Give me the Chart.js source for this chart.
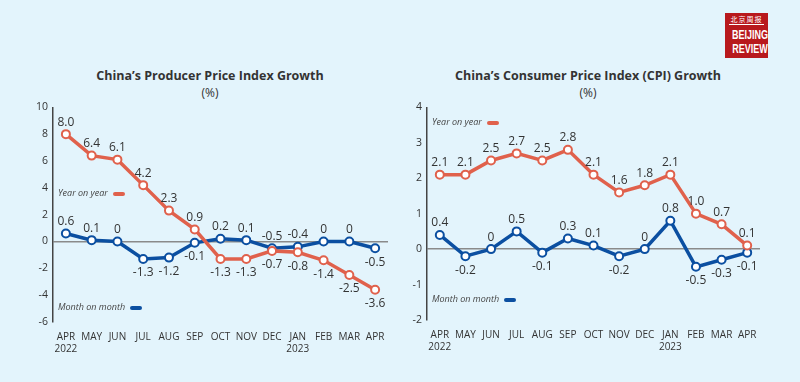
<!DOCTYPE html>
<html lang="en">
<head>
<meta charset="UTF-8">
<title>China PPI and CPI Growth</title>
<style>
    body { margin: 0; background: #e3f4fc; font-family: 'Open Sans', sans-serif; color: #3a3a3a; }
    #page { position: relative; width: 800px; height: 382px; overflow: hidden; background: #e3f4fc; }
    .title { position: absolute; top: 67px; width: 400px; text-align: center; font-weight: bold; font-size: 12.5px; line-height: 17px; color: #333; }
    .title span { display: block; font-weight: normal; font-size: 12px; }
    canvas { position: absolute; }
    .legend { position: absolute; font-size: 9px; font-style: italic; color: #444; line-height: 12px; white-space: nowrap; }
    .legend i { display: inline-block; width: 12px; height: 4px; border-radius: 2px; margin-left: 5px; vertical-align: middle; }
    #logo { position: absolute; left: 725px; top: 13px; width: 43px; height: 45px; background: #b8191d; color: #fff; text-align: center; overflow: hidden; }
    #logo .cn { font-family: 'Noto Sans CJK SC', sans-serif; font-size: 7px; line-height: 9px; margin: 2px 4px 0 4px; letter-spacing: 1px; border-bottom: 1px solid #fff; white-space: nowrap; }
    #logo .en { display: inline-block; font-family: 'Liberation Sans Narrow', 'Liberation Sans', sans-serif; font-weight: bold; font-size: 12.5px; line-height: 14px; transform: scaleX(0.72); transform-origin: center; margin-top: 3px; white-space: nowrap; }
</style>
</head>
<body>
<div id="page">
    <div id="logo">
        <div class="cn">北京周报</div>
        <div class="en">BEIJING<br>REVIEW</div>
    </div>

    <div class="title" style="left:10px">China’s Producer Price Index Growth<span>(%)</span></div>
    <div class="title" style="left:388px">China’s Consumer Price Index (CPI) Growth<span>(%)</span></div>

    <canvas id="ppiChart" width="400" height="266" style="left:0;top:96px"></canvas>
    <canvas id="cpiChart" width="400" height="266" style="left:400px;top:96px"></canvas>

    <div class="legend" style="left:58px;top:187px">Year on year<i style="background:#e0614c"></i></div>
    <div class="legend" style="left:58px;top:301px">Month on month<i style="background:#0b4fa1"></i></div>
    <div class="legend" style="left:432px;top:116px">Year on year<i style="background:#e0614c"></i></div>
    <div class="legend" style="left:432px;top:293px">Month on month<i style="background:#0b4fa1"></i></div>
</div>

<script src="https://cdn.jsdelivr.net/npm/chart.js@4.4.0/dist/chart.umd.min.js"></script>
<script>
// ---- data ----
var months = [["APR", "2022"], "MAY", "JUN", "JUL", "AUG", "SEP", "OCT", "NOV", "DEC", ["JAN", "2023"], "FEB", "MAR", "APR"];

var ppiYoy = [8.0, 6.4, 6.1, 4.2, 2.3, 0.9, -1.3, -1.3, -0.7, -0.8, -1.4, -2.5, -3.6];
var ppiMom = [0.6, 0.1, 0, -1.3, -1.2, -0.1, 0.2, 0.1, -0.5, -0.4, 0, 0, -0.5];
var ppiTicks = [-6, -4, -2, 0, 2, 4, 6, 8, 10];

var cpiYoy = [2.1, 2.1, 2.5, 2.7, 2.5, 2.8, 2.1, 1.6, 1.8, 2.1, 1.0, 0.7, 0.1];
var cpiMom = [0.4, -0.2, 0, 0.5, -0.1, 0.3, 0.1, -0.2, 0, 0.8, -0.5, -0.3, -0.1];
var cpiTicks = [-2, -1, 0, 1, 2, 3, 4];

// where each value label sits: u = above the point, d = below
var ppiYoyPos = "uuuuuuddddddd";
var ppiMomPos = "uuuddduuuuuud";
var cpiYoyPos = "uuuuuuuuuuuuu";
var cpiMomPos = "uduuduuduuddd";

var RED = "#e0614c", BLUE = "#0b4fa1", TEXT = "#333";

function fmt(v) { return v === 0 ? "0" : v.toFixed(1); }

// value labels next to every point
var pointLabels = {
    id: "pointLabels",
    afterDatasetsDraw: function(chart) {
        var ctx = chart.ctx;
        ctx.save();
        ctx.font = '12px "Open Sans"';
        ctx.fillStyle = TEXT;
        ctx.textAlign = "center";
        ctx.textBaseline = "middle";
        chart.data.datasets.forEach(function(ds, i) {
            chart.getDatasetMeta(i).data.forEach(function(pt, j) {
                var below = ds.labelPos[j] === "d";
                ctx.fillText(fmt(ds.data[j]), pt.x, pt.y + (below ? 14 : -12));
            });
        });
        ctx.restore();
    }
};

function lineSet(label, data, color, pos) {
    return {
        label: label,
        data: data,
        labelPos: pos,
        borderColor: color,
        borderWidth: 3.5,
        pointRadius: 4,
        pointBorderWidth: 2,
        pointBackgroundColor: "#fff",
        pointBorderColor: color,
        tension: 0
    };
}

function makeChart(id, yoy, mom, yoyPos, momPos, ticks, axisWidth, padTop, padRight, xHeight) {
    var ctx = document.getElementById(id).getContext("2d");
    return new Chart(ctx, {
        type: "line",
        data: {
            labels: months,
            datasets: [
                lineSet("Year on year", yoy, RED, yoyPos),
                lineSet("Month on month", mom, BLUE, momPos)
            ]
        },
        options: {
            responsive: false,
            animation: false,
            layout: { padding: { top: padTop, right: padRight, left: 0, bottom: 0 } },
            plugins: { legend: { display: false }, tooltip: { enabled: false } },
            scales: {
                x: {
                    offset: true,
                    grid: { display: false },
                    border: { display: false },
                    ticks: {
                        color: TEXT,
                        font: { family: "Open Sans", size: 10 },
                        maxRotation: 0,
                        autoSkip: false,
                        padding: 1
                    },
                    afterFit: function(s) { s.height = xHeight; }
                },
                y: {
                    min: ticks[0],
                    max: ticks[ticks.length - 1],
                    afterBuildTicks: function(s) { s.ticks = ticks.map(function(v) { return { value: v }; }); },
                    grid: {
                        drawTicks: false,
                        color: function(c) { return c.tick && c.tick.value === 0 ? "#8a8a8a" : "transparent"; },
                        lineWidth: 1.5
                    },
                    border: { display: true, color: "#444", width: 1.5 },
                    ticks: {
                        color: TEXT,
                        font: { family: "Open Sans", size: 10.5 },
                        padding: 5
                    },
                    afterFit: function(s) { s.width = axisWidth; }
                }
            }
        },
        plugins: [pointLabels]
    });
}

makeChart("ppiChart", ppiYoy, ppiMom, ppiYoyPos, ppiMomPos, ppiTicks, 53, 10, 12, 40);
makeChart("cpiChart", cpiYoy, cpiMom, cpiYoyPos, cpiMomPos, cpiTicks, 27, 9, 40, 42);
</script>
</body>
</html>
